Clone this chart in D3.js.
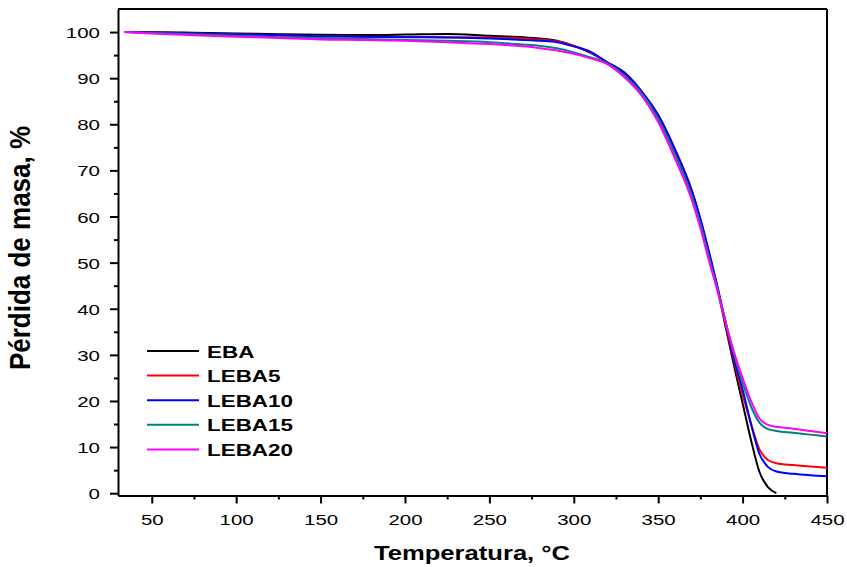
<!DOCTYPE html>
<html>
<head>
<meta charset="utf-8">
<script src="https://cdn.jsdelivr.net/npm/d3@7"></script>
<style>
  body { margin: 0; background: #fff; }
  text { font-family: "Liberation Sans", Arial, sans-serif; }
</style>
</head>
<body>
<div id="chart-area"></div>
<script>
// Data (temperature in °C, mass in %)
var temps = [34, 50, 75, 100, 125, 150, 175, 200, 225, 250, 270, 280, 290, 300, 310, 320, 330, 340,
             350, 360, 370, 375, 380, 385, 390, 395, 400, 405, 410, 415, 420, 430, 440, 450];
var eba    = [100, 99.95, 99.85, 99.7, 99.55, 99.4, 99.35, 99.45, 99.6, 99.2, 98.9, 98.6, 98.1, 97.0, 95.5, 93.4, 91.0, 87.0,
              81.8, 74.3, 65.3, 59.2, 52.0, 44.5, 36.0, 27.5, 19.5, 11.5, 4.6, 1.3, 0, null, null, null];
var leba5  = [100, 99.9, 99.7, 99.5, 99.3, 99.1, 99.0, 98.95, 98.9, 98.8, 98.6, 98.4, 98.0, 97.0, 95.6, 93.4, 91.2, 87.2,
              82.0, 74.5, 65.5, 59.3, 52.2, 44.7, 36.5, 28.5, 21.5, 15.0, 9.5, 7.2, 6.5, 6.1, 5.8, 5.5];
var leba10 = [100, 99.9, 99.7, 99.5, 99.3, 99.1, 99.0, 98.9, 98.8, 98.6, 98.3, 98.1, 97.8, 96.9, 95.7, 93.4, 91.2, 87.2,
              82.0, 74.5, 65.5, 59.5, 52.5, 45.0, 37.0, 29.0, 22.5, 15.0, 8.5, 5.7, 4.7, 4.2, 3.9, 3.7];
var leba15 = [100, 99.8, 99.5, 99.2, 98.9, 98.7, 98.5, 98.3, 98.1, 97.8, 97.3, 97.0, 96.5, 95.6, 94.5, 93.2, 90.6, 86.8,
              81.2, 73.4, 64.4, 58.4, 51.4, 44.5, 37.0, 30.0, 24.0, 18.8, 15.3, 13.9, 13.5, 13.1, 12.7, 12.3];
var leba20 = [100, 99.7, 99.3, 99.0, 98.7, 98.4, 98.3, 98.1, 97.8, 97.4, 96.9, 96.5, 96.0, 95.3, 94.3, 93.0, 90.2, 86.3,
              80.5, 72.5, 63.5, 57.5, 50.5, 44.0, 37.0, 30.5, 25.0, 20.0, 16.2, 14.8, 14.4, 14.0, 13.5, 13.0];

var seriesNames = ["EBA", "LEBA5", "LEBA10", "LEBA15", "LEBA20"];
var seriesValues = [eba, leba5, leba10, leba15, leba20];
var seriesColors = ["#000000", "#ff0000", "#0000ff", "#008080", "#ff00ff"];

var xTicks = [50, 100, 150, 200, 250, 300, 350, 400, 450];
var yTicks = [0, 10, 20, 30, 40, 50, 60, 70, 80, 90, 100];

var margin = { left: 118, right: 20, top: 9, bottom: 71.5 };
var width = 847 - margin.left - margin.right,
    height = 567 - margin.top - margin.bottom;
var stretch = 1.32; // text in the figure is widened horizontally

var svg = d3.select("#chart-area")
    .append("svg")
        .attr("width", 847)
        .attr("height", 567);
var g = svg.append("g")
    .attr("transform", "translate(" + margin.left + "," + margin.top + ")");

// Scales
var x = d3.scaleLinear().domain([30, 450]).range([0, width]);
var y = d3.scaleLinear().domain([-0.5, 105]).range([height, 0]);

// Minor ticks
g.append("g")
    .attr("transform", "translate(0," + height + ")")
    .call(d3.axisBottom(x).tickValues(d3.range(75, 450, 50)).tickSize(4).tickFormat(""))
    .call(function(a){ a.select(".domain").remove(); a.selectAll("line").attr("stroke-width", 2); });
g.append("g")
    .call(d3.axisLeft(y).tickValues(d3.range(5, 105, 10)).tickSize(4).tickFormat(""))
    .call(function(a){ a.select(".domain").remove(); a.selectAll("line").attr("stroke-width", 2); });

// X Axis
var xAxis = g.append("g")
    .attr("transform", "translate(0," + height + ")")
    .call(d3.axisBottom(x).tickValues(xTicks).tickSize(8).tickSizeOuter(0));
xAxis.selectAll("line").attr("stroke-width", 2);
xAxis.select(".domain").attr("stroke-width", 2);
xAxis.selectAll("text")
    .attr("font-size", "15.5px")
    .attr("font-family", "Liberation Sans, Arial, sans-serif")
    .attr("fill", "#000")
    .attr("y", 0)
    .attr("dy", 0)
    .attr("transform", "translate(0,29) scale(" + stretch + ",1)");

// Y Axis
var yAxis = g.append("g")
    .call(d3.axisLeft(y).tickValues(yTicks).tickSize(8).tickSizeOuter(0));
yAxis.selectAll("line").attr("stroke-width", 2);
yAxis.select(".domain").attr("stroke-width", 2);
yAxis.selectAll("text")
    .attr("font-size", "15.5px")
    .attr("font-family", "Liberation Sans, Arial, sans-serif")
    .attr("fill", "#000")
    .attr("x", 0)
    .attr("dy", "0.36em")
    .attr("transform", "translate(-18,0) scale(" + stretch + ",1)");

// Frame top / right
g.append("line").attr("x1", 0).attr("x2", width).attr("y1", 0).attr("y2", 0)
    .attr("stroke", "#000").attr("stroke-width", 2);
g.append("line").attr("x1", width).attr("x2", width).attr("y1", 0).attr("y2", height)
    .attr("stroke", "#000").attr("stroke-width", 2);

// Lines
var line = d3.line()
    .defined(function(d){ return d[1] !== null; })
    .x(function(d){ return x(d[0]); })
    .y(function(d){ return y(d[1]); })
    .curve(d3.curveMonotoneX);

seriesValues.forEach(function(vals, i){
    var pts = temps.map(function(t, j){ return [t, vals[j]]; });
    g.append("path")
        .datum(pts)
        .attr("fill", "none")
        .attr("stroke", seriesColors[i])
        .attr("stroke-width", 2)
        .attr("d", line);
});

// Labels
svg.append("text")
    .attr("transform", "translate(472,560) scale(1.22,1)")
    .attr("text-anchor", "middle")
    .attr("font-size", "21px")
    .attr("font-weight", "bold")
    .text("Temperatura, °C");
svg.append("text")
    .attr("transform", "translate(30,248) scale(1.1,1) rotate(-90)")
    .attr("text-anchor", "middle")
    .attr("font-size", "26px")
    .attr("font-weight", "bold")
    .text("Pérdida de masa, %");

// Legend
var legend = svg.append("g")
    .attr("transform", "translate(147,351)");
seriesNames.forEach(function(name, i){
    var row = legend.append("g")
        .attr("transform", "translate(0," + (i * 24.6) + ")");
    row.append("line")
        .attr("x1", 0).attr("x2", 52)
        .attr("stroke", seriesColors[i])
        .attr("stroke-width", 2);
    row.append("text")
        .attr("transform", "translate(60,6.5) scale(" + stretch + ",1)")
        .attr("font-size", "17px")
        .attr("font-weight", "bold")
        .text(name);
});
</script>
</body>
</html>
